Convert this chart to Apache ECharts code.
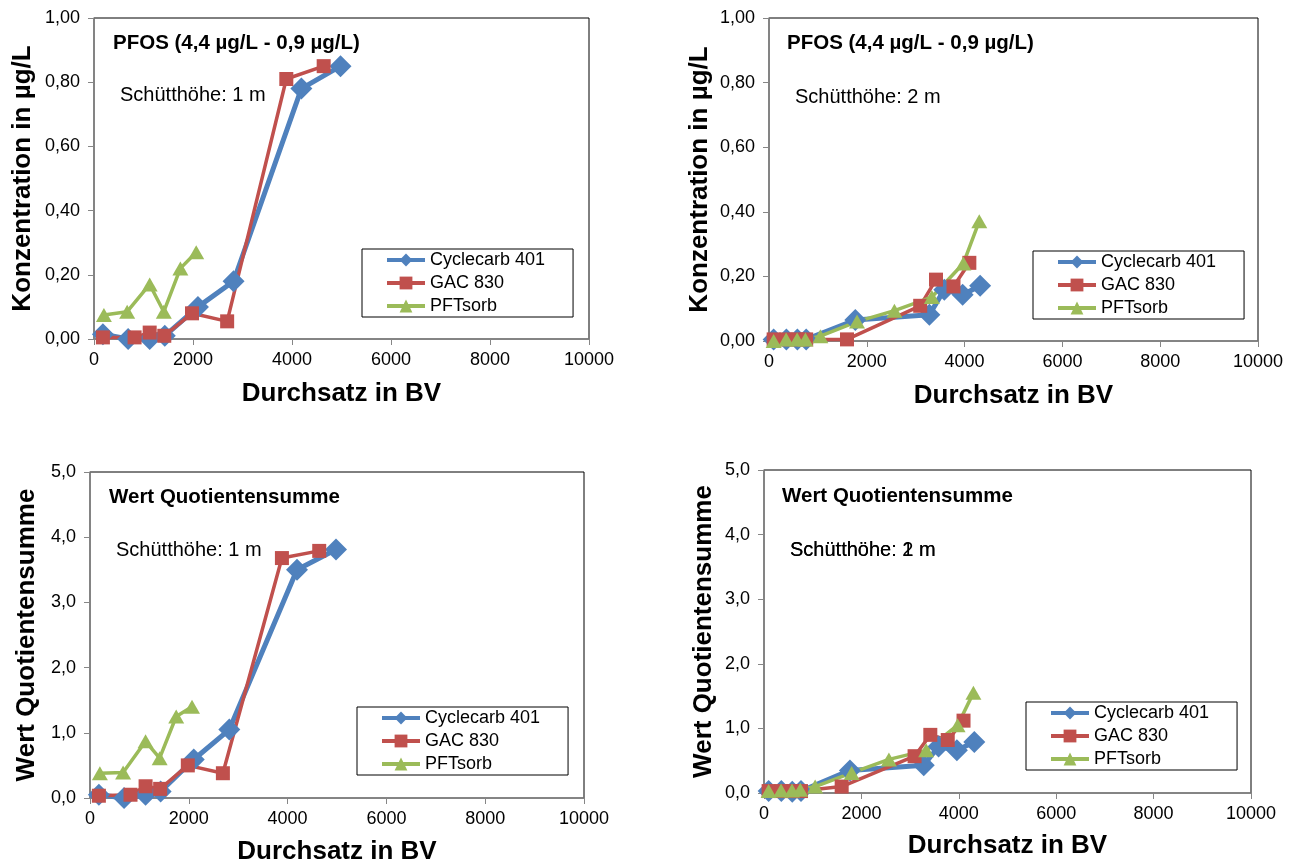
<!DOCTYPE html>
<html>
<head>
<meta charset="utf-8">
<script src="https://cdn.jsdelivr.net/npm/echarts@6/dist/echarts.min.js"></script>
<style>
html, body { margin: 0; padding: 0; background: #fff; }
#chart { width: 1299px; height: 864px; }
</style>
</head>
<body>
<div id="chart"></div>
<script>
// Schütthöhe 1 m (Durchsatz in BV)
var cyc1X = [180, 690, 1125, 1430, 2100, 2820, 4190, 4980];
var gac1X = [180, 820, 1125, 1420, 1980, 2690, 3885, 4640];
var pft1X = [200, 670, 1125, 1410, 1745, 2065];
// PFOS, 1 m (µg/L)
var cyc1Pfos = [0.015, 0.0, 0.0, 0.01, 0.10, 0.18, 0.78, 0.85];
var gac1Pfos = [0.005, 0.005, 0.02, 0.01, 0.08, 0.055, 0.81, 0.85];
var pft1Pfos = [0.075, 0.085, 0.17, 0.085, 0.22, 0.27];
// Quotientensumme, 1 m
var cyc1Qs = [0.05, 0.0, 0.05, 0.10, 0.59, 1.05, 3.50, 3.81];
var gac1Qs = [0.035, 0.05, 0.18, 0.14, 0.50, 0.38, 3.68, 3.79];
var pft1Qs = [0.38, 0.39, 0.87, 0.61, 1.25, 1.40];

// Schütthöhe 2 m (Durchsatz in BV)
var cyc2X = [95, 355, 580, 760, 1765, 3280, 3585, 3960, 4318];
var gac2X = [95, 355, 580, 760, 1595, 3092, 3415, 3773, 4097];
var pft2X = [95, 350, 575, 745, 1050, 1800, 2565, 3330, 3975, 4300];
// PFOS, 2 m
var cyc2Pfos = [0.005, 0.005, 0.005, 0.005, 0.065, 0.081, 0.159, 0.143, 0.171];
var gac2Pfos = [0.005, 0.005, 0.005, 0.005, 0.005, 0.109, 0.19, 0.169, 0.242];
var pft2Pfos = [0.0, 0.005, 0.005, 0.005, 0.015, 0.06, 0.094, 0.136, 0.24, 0.371];
// Quotientensumme, 2 m
var cyc2Qs = [0.03, 0.03, 0.02, 0.03, 0.35, 0.43, 0.72, 0.66, 0.79];
var gac2Qs = [0.03, 0.03, 0.03, 0.03, 0.10, 0.57, 0.90, 0.82, 1.12];
var pft2Qs = [0.03, 0.04, 0.04, 0.05, 0.10, 0.31, 0.52, 0.66, 1.05, 1.55];

var names = ['Cyclecarb 401', 'GAC 830', 'PFTsorb'];
var FONT = '"Liberation Sans", Arial, sans-serif';
var GRAY = '#868686';

function zip(xs, ys) {
    return xs.map(function (x, i) { return [x, ys[i]]; });
}

function comma(dec) {
    return function (v) { return v.toFixed(dec).replace('.', ','); };
}

function xAxis(idx, gap) {
    return {
        gridIndex: idx, type: 'value', min: 0, max: 10000, interval: 2000,
        name: 'Durchsatz in BV', nameLocation: 'middle', nameGap: gap, nameMoveOverlap: false,
        nameTextStyle: { fontFamily: FONT, fontSize: 26, fontWeight: 'bold', color: '#000' },
        axisLine: { onZero: false, lineStyle: { color: GRAY, width: 1.5 } },
        axisTick: { show: true, inside: false, length: 6, lineStyle: { color: GRAY, width: 1 } },
        axisLabel: { fontFamily: FONT, fontSize: 18, color: '#000', margin: 12,
                     formatter: function (v) { return String(v); } },
        splitLine: { show: false }
    };
}

function yAxis(idx, max, step, dec, name, gap) {
    return {
        gridIndex: idx, type: 'value', min: 0, max: max, interval: step,
        name: name, nameLocation: 'middle', nameRotate: 90, nameGap: gap, nameMoveOverlap: false,
        nameTextStyle: { fontFamily: FONT, fontSize: 26, fontWeight: 'bold', color: '#000' },
        axisLine: { show: true, onZero: false, lineStyle: { color: GRAY, width: 1.5 } },
        axisTick: { show: true, inside: false, length: 6, lineStyle: { color: GRAY, width: 1 } },
        axisLabel: { fontFamily: FONT, fontSize: 18, color: '#000', margin: 14, formatter: comma(dec) },
        splitLine: { show: false }
    };
}

function grid(l, t, w, h) {
    return { left: l, top: t, width: w, height: h, show: true, borderColor: '#000', borderWidth: 1,
             backgroundColor: '#fff', containLabel: false, outerBoundsMode: 'none' };
}

function legend(l, t) {
    return {
        data: names, orient: 'vertical', left: l, top: t,
        padding: [2, 28, 2, 23], itemGap: 5, itemWidth: 38, itemHeight: 16,
        borderColor: '#000', borderWidth: 1, backgroundColor: '#fff',
        lineStyle: { width: 4 },
        textStyle: { fontFamily: FONT, fontSize: 18, color: '#000' },
        selectedMode: false
    };
}

function trio(idx, cx, cy, gx, gy, px, py) {
    var base = { type: 'line', xAxisIndex: idx, yAxisIndex: idx, animation: false };
    return [
        Object.assign({}, base, { name: names[0], data: zip(cx, cy), symbol: 'diamond', symbolSize: 22,
            itemStyle: { color: '#4F81BD' }, lineStyle: { color: '#4F81BD', width: 5 } }),
        Object.assign({}, base, { name: names[1], data: zip(gx, gy), symbol: 'rect', symbolSize: 14,
            itemStyle: { color: '#C0504D' }, lineStyle: { color: '#C0504D', width: 3.5 } }),
        Object.assign({}, base, { name: names[2], data: zip(px, py), symbol: 'triangle', symbolSize: [16, 14],
            itemStyle: { color: '#9BBB59' }, lineStyle: { color: '#9BBB59', width: 3.5 } })
    ];
}

function label(x, y, text, bold) {
    return { type: 'text', x: x, y: y, z: 100, silent: true,
             style: { text: text, fill: '#000', verticalAlign: 'middle', textVerticalAlign: 'middle',
                      font: (bold ? 'bold 20.5px ' : '20px ') + FONT } };
}

var chart = echarts.init(document.getElementById('chart'), null, { renderer: 'canvas' });

var option = {
    backgroundColor: '#fff',
    animation: false,
    grid: [
        grid(94, 18, 495, 321),
        grid(769, 18, 489, 323),
        grid(90, 472, 494, 326),
        grid(764, 470, 487, 323)
    ],
    xAxis: [xAxis(0, 42), xAxis(1, 42), xAxis(2, 41), xAxis(3, 40)],
    yAxis: [
        yAxis(0, 1, 0.2, 2, 'Konzentration in µg/L', 58),
        yAxis(1, 1, 0.2, 2, 'Konzentration in µg/L', 56),
        yAxis(2, 5, 1, 1, 'Wert Quotientensumme', 50),
        yAxis(3, 5, 1, 1, 'Wert Quotientensumme', 47)
    ],
    legend: [legend(362, 249), legend(1033, 251), legend(357, 707), legend(1026, 702)],
    series: [].concat(
        trio(0, cyc1X, cyc1Pfos, gac1X, gac1Pfos, pft1X, pft1Pfos),
        trio(1, cyc2X, cyc2Pfos, gac2X, gac2Pfos, pft2X, pft2Pfos),
        trio(2, cyc1X, cyc1Qs, gac1X, gac1Qs, pft1X, pft1Qs),
        trio(3, cyc2X, cyc2Qs, gac2X, gac2Qs, pft2X, pft2Qs)
    ),
    graphic: [
        label(113, 43, 'PFOS (4,4 µg/L - 0,9 µg/L)', true),
        label(120, 95, 'Schütthöhe: 1 m', false),
        label(787, 43, 'PFOS (4,4 µg/L - 0,9 µg/L)', true),
        label(795, 97, 'Schütthöhe: 2 m', false),
        label(109, 497, 'Wert Quotientensumme', true),
        label(116, 550, 'Schütthöhe: 1 m', false),
        label(782, 496, 'Wert Quotientensumme', true),
        label(790, 550, 'Schütthöhe: 1 m', false),
        label(790, 550, 'Schütthöhe: 2 m', false)
    ]
};

chart.setOption(option);
</script>
</body>
</html>
